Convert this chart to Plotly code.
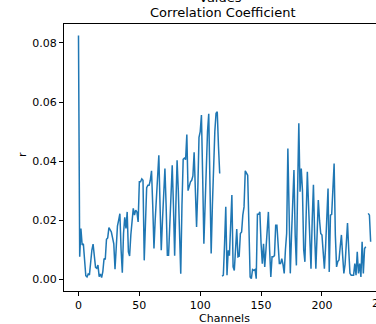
import numpy as np
import plotly.graph_objects as go

nan = float("nan")

# r values per channel (NaN = gap)
r_values = [
    0.0825, 0.0076, 0.0172, 0.0116, 0.0120, 0.0050, 0.0012, 0.0008, 0.0018, 0.0015,
    0.0060, 0.0099, 0.0119, 0.0067, 0.0040, 0.0037, 0.0048, 0.0009, 0.0018, 0.0006,
    0.0026, 0.0070, 0.0067, 0.0135, 0.0140, 0.0175, 0.0166, 0.0160, 0.0140, 0.0120,
    0.0034, 0.0138, 0.0180, 0.0200, 0.0222, 0.0100, 0.0022, 0.0155, 0.0210, 0.0172,
    0.0228, 0.0093, 0.0079, 0.0150, 0.0210, 0.0240, 0.0217, 0.0234, 0.0228, 0.0194,
    0.0330, 0.0330, 0.0340, 0.0335, 0.0064, 0.0200, 0.0310, 0.0318, 0.0318, 0.0335,
    0.0367, 0.0250, 0.0104, 0.0200, 0.0280, 0.0350, 0.0420, 0.0250, 0.0098, 0.0200,
    0.0300, 0.0375, 0.0250, 0.0081, 0.0081, 0.0200, 0.0300, 0.0386, 0.0250, 0.0080,
    0.0250, 0.0403, 0.0300, 0.0150, 0.0019, 0.0250, 0.0406, 0.0410, 0.0405, 0.0490,
    0.0300, 0.0315, 0.0330, 0.0335, 0.0350, 0.0430, 0.0300, 0.0177, 0.0300, 0.0480,
    0.0500, 0.0556, 0.0350, 0.0120, 0.0250, 0.0400, 0.0500, 0.0560, 0.0300, 0.0087,
    0.0250, 0.0400, 0.0500, 0.0562, 0.0567, 0.0450, 0.0358, nan, 0.0010, 0.0014,
    0.0120, 0.0245, 0.0014, 0.0098, 0.0080, 0.0180, 0.0285, 0.0042, 0.0030, 0.0100,
    0.0170, 0.0076, 0.0078, 0.0155, 0.0160, 0.0217, 0.0245, 0.0367, 0.0360, 0.0352,
    0.0180, 0.0008, 0.0002, 0.0033, 0.0030, 0.0033, 0.0002, 0.0220, 0.0220, 0.0228,
    0.0120, 0.0053, 0.0120, 0.0042, 0.0100, 0.0180, 0.0228, 0.0100, 0.0008, 0.0076,
    0.0076, 0.0080, 0.0183, 0.0183, 0.0100, 0.0053, 0.0053, 0.0070, 0.0050, 0.0020,
    0.0100, 0.0155, 0.0443, 0.0200, 0.0020, 0.0150, 0.0300, 0.0370, 0.0150, 0.0047,
    0.0300, 0.0528, 0.0296, 0.0375, 0.0300, 0.0100, 0.0059, 0.0200, 0.0364, 0.0250,
    0.0100, 0.0036, 0.0200, 0.0320, 0.0150, 0.0036, 0.0150, 0.0268, 0.0200, 0.0155,
    0.0150, 0.0080, 0.0036, 0.0110, 0.0200, 0.0307, 0.0025, 0.0217, 0.0220, 0.0300,
    0.0392, 0.0150, 0.0042, 0.0060, 0.0065, 0.0110, 0.0150, 0.0080, 0.0020, 0.0050,
    0.0120, 0.0190, 0.0100, 0.0020, 0.0014, 0.0014, 0.0014, 0.0053, 0.0014, 0.0093,
    0.0020, 0.0053, 0.0008, 0.0127, 0.0020, 0.0104, 0.0110, nan, 0.0223, 0.0217,
    0.0127,
]
channels = list(range(len(r_values)))

x_ticks = [0, 50, 100, 150, 200]
y_ticks = [0.00, 0.02, 0.04, 0.06, 0.08]

FONT = "DejaVu Sans"

fig = go.Figure()
fig.add_trace(go.Scatter(
    x=channels, y=r_values, mode="lines",
    line=dict(color="#1f77b4", width=1.5),
    connectgaps=False, showlegend=False, hoverinfo="skip",
))

fig.update_layout(
    width=376, height=324,
    margin=dict(l=64, r=0, t=24, b=33),
    paper_bgcolor="white", plot_bgcolor="white",
    font=dict(family=FONT, size=11, color="black"),
    xaxis=dict(
        range=[-11.9, 244.4], tickvals=x_ticks, ticktext=[str(v) for v in x_ticks],
        showgrid=False, zeroline=False, showline=True, mirror=True,
        linecolor="black", linewidth=1, ticks="outside", ticklen=4,
        tickcolor="black", tickwidth=1,
    ),
    yaxis=dict(
        range=[-0.00397, 0.0864], tickvals=y_ticks,
        ticktext=["%.2f" % v for v in y_ticks],
        showgrid=False, zeroline=False, showline=True, mirror=False,
        linecolor="black", linewidth=1, ticks="outside", ticklen=4,
        tickcolor="black", tickwidth=1,
    ),
    annotations=[
        dict(text="Values", xref="paper", yref="paper", x=0.5, y=1.0975,
             xanchor="center", yanchor="middle", showarrow=False,
             font=dict(size=13, family=FONT)),
        dict(text="Correlation Coefficient", xref="paper", yref="paper",
             x=0.511, y=1.0415, xanchor="center", yanchor="middle",
             showarrow=False, font=dict(size=13, family=FONT)),
        dict(text="Channels", xref="paper", yref="paper", x=0.515, y=-0.102,
             xanchor="center", yanchor="middle", showarrow=False,
             font=dict(size=11, family=FONT)),
        dict(text="r", xref="paper", yref="paper", x=-0.1346, y=0.509,
             xanchor="center", yanchor="middle", showarrow=False,
             textangle=-90, font=dict(size=11, family=FONT)),
        dict(text="250", xref="paper", yref="paper", x=1.0218, y=-0.045,
             xanchor="center", yanchor="middle", showarrow=False,
             font=dict(size=11, family=FONT)),
    ],
)

fig.write_html("out.html")
